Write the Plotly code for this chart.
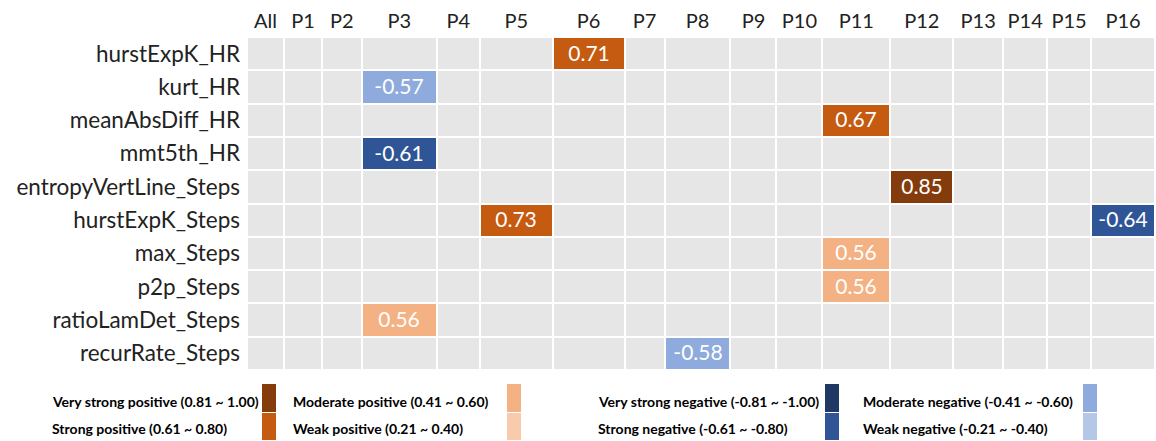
import plotly.graph_objects as go

# ---------------- data ----------------
columns = ["All", "P1", "P2", "P3", "P4", "P5", "P6", "P7", "P8", "P9", "P10",
           "P11", "P12", "P13", "P14", "P15", "P16"]
features = ["hurstExpK_HR", "kurt_HR", "meanAbsDiff_HR", "mmt5th_HR",
            "entropyVertLine_Steps", "hurstExpK_Steps", "max_Steps", "p2p_Steps",
            "ratioLamDet_Steps", "recurRate_Steps"]
# significant correlations: (feature, participant, r)
cell_feature = ["hurstExpK_HR", "kurt_HR", "meanAbsDiff_HR", "mmt5th_HR",
                "entropyVertLine_Steps", "hurstExpK_Steps", "hurstExpK_Steps",
                "max_Steps", "p2p_Steps", "ratioLamDet_Steps", "recurRate_Steps"]
cell_participant = ["P6", "P3", "P11", "P3", "P12", "P5", "P16", "P11", "P11", "P3", "P8"]
cell_value = [0.71, -0.57, 0.67, -0.61, 0.85, 0.73, -0.64, 0.56, 0.56, 0.56, -0.58]

legend_labels = ["Very strong positive (0.81 ~ 1.00)", "Strong positive (0.61 ~ 0.80)",
                 "Moderate positive (0.41 ~ 0.60)", "Weak positive (0.21 ~ 0.40)",
                 "Very strong negative (-0.81 ~ -1.00)", "Strong negative (-0.61 ~ -0.80)",
                 "Moderate negative (-0.41 ~ -0.60)", "Weak negative (-0.21 ~ -0.40)"]

# ---------------- style ----------------
col_widths = [37, 38, 40, 75, 43, 73, 72, 40, 66, 46, 46, 68, 63, 50, 44, 44, 64]
class_colors = ["#E6E6E6",
                "#843C0C", "#C55A11", "#F4B183", "#F8CBAD",
                "#203864", "#2F5597", "#8FAADC", "#B4C7E7"]
FONT = "Lato"


def strength_class(r):
    a = abs(r)
    if a >= 0.81:
        k = 1
    elif a >= 0.61:
        k = 2
    elif a >= 0.41:
        k = 3
    else:
        k = 4
    return k if r > 0 else k + 4


edges = [0]
for w in col_widths:
    edges.append(edges[-1] + w)
centers = [(edges[i] + edges[i + 1]) / 2 for i in range(len(col_widths))]

z = [[0] * len(columns) for _ in features]
txt = [[""] * len(columns) for _ in features]
for f, p, v in zip(cell_feature, cell_participant, cell_value):
    i, j = features.index(f), columns.index(p)
    z[i][j] = strength_class(v)
    txt[i][j] = f"{v:.2f}"

n = len(class_colors)
colorscale = []
for k, c in enumerate(class_colors):
    colorscale.append([k / n, c])
    colorscale.append([(k + 1) / n, c])

fig = go.Figure(go.Heatmap(
    z=z, x=edges, y=features, text=txt, texttemplate="%{text}",
    textfont=dict(family=FONT, size=21, color="white"),
    colorscale=colorscale, zmin=-0.5, zmax=n - 0.5, showscale=False,
    xgap=2, ygap=2, hoverinfo="skip"))

fig.update_xaxes(side="top", range=[0, edges[-1]], tickmode="array",
                 tickvals=centers, ticktext=columns, showgrid=False, zeroline=False,
                 ticks="", ticklabelstandoff=4,
                 tickfont=dict(family=FONT, size=20, color="#222"))
fig.update_yaxes(autorange="reversed", showgrid=False, zeroline=False, ticks="",
                 ticklabelstandoff=6, tickfont=dict(family=FONT, size=22.5, color="#222"))

# legend (bottom, 4 groups x 2 rows)
W, H = 1156, 441
L, R, T, B = 247, 1, 37, 71
pw, ph = W - L - R, H - T - B
text_x = [50, 291, 596, 861]
sw_x = [262, 507, 825, 1083]
row_y = [[384, 412], [413, 440]]
text_y = [401, 429]


def px2paper(x, y):
    return (x - L) / pw, 1 - (y - T) / ph


shapes, annotations = [], []
for idx, lab in enumerate(legend_labels):
    g, r = idx // 2, idx % 2
    ax, ay = px2paper(text_x[g], text_y[r])
    annotations.append(dict(xref="paper", yref="paper", x=ax, y=ay,
                            xanchor="left", yanchor="middle", showarrow=False,
                            text=f"<b>{lab}</b>",
                            font=dict(family=FONT, size=14, color="black")))
    x0, y0 = px2paper(sw_x[g], row_y[r][1])
    x1, y1 = px2paper(sw_x[g] + 14, row_y[r][0])
    shapes.append(dict(type="rect", xref="paper", yref="paper", layer="above",
                       x0=x0, x1=x1, y0=y0, y1=y1,
                       fillcolor=class_colors[idx + 1], line=dict(width=0)))

fig.update_layout(width=W, height=H, margin=dict(l=L, r=R, t=T, b=B, autoexpand=False),
                  paper_bgcolor="white", plot_bgcolor="white",
                  shapes=shapes, annotations=annotations,
                  font=dict(family=FONT))
fig.write_html("out.html", config={"displayModeBar": False},
               post_script="document.body.style.margin='0';document.body.style.overflow='hidden';")
